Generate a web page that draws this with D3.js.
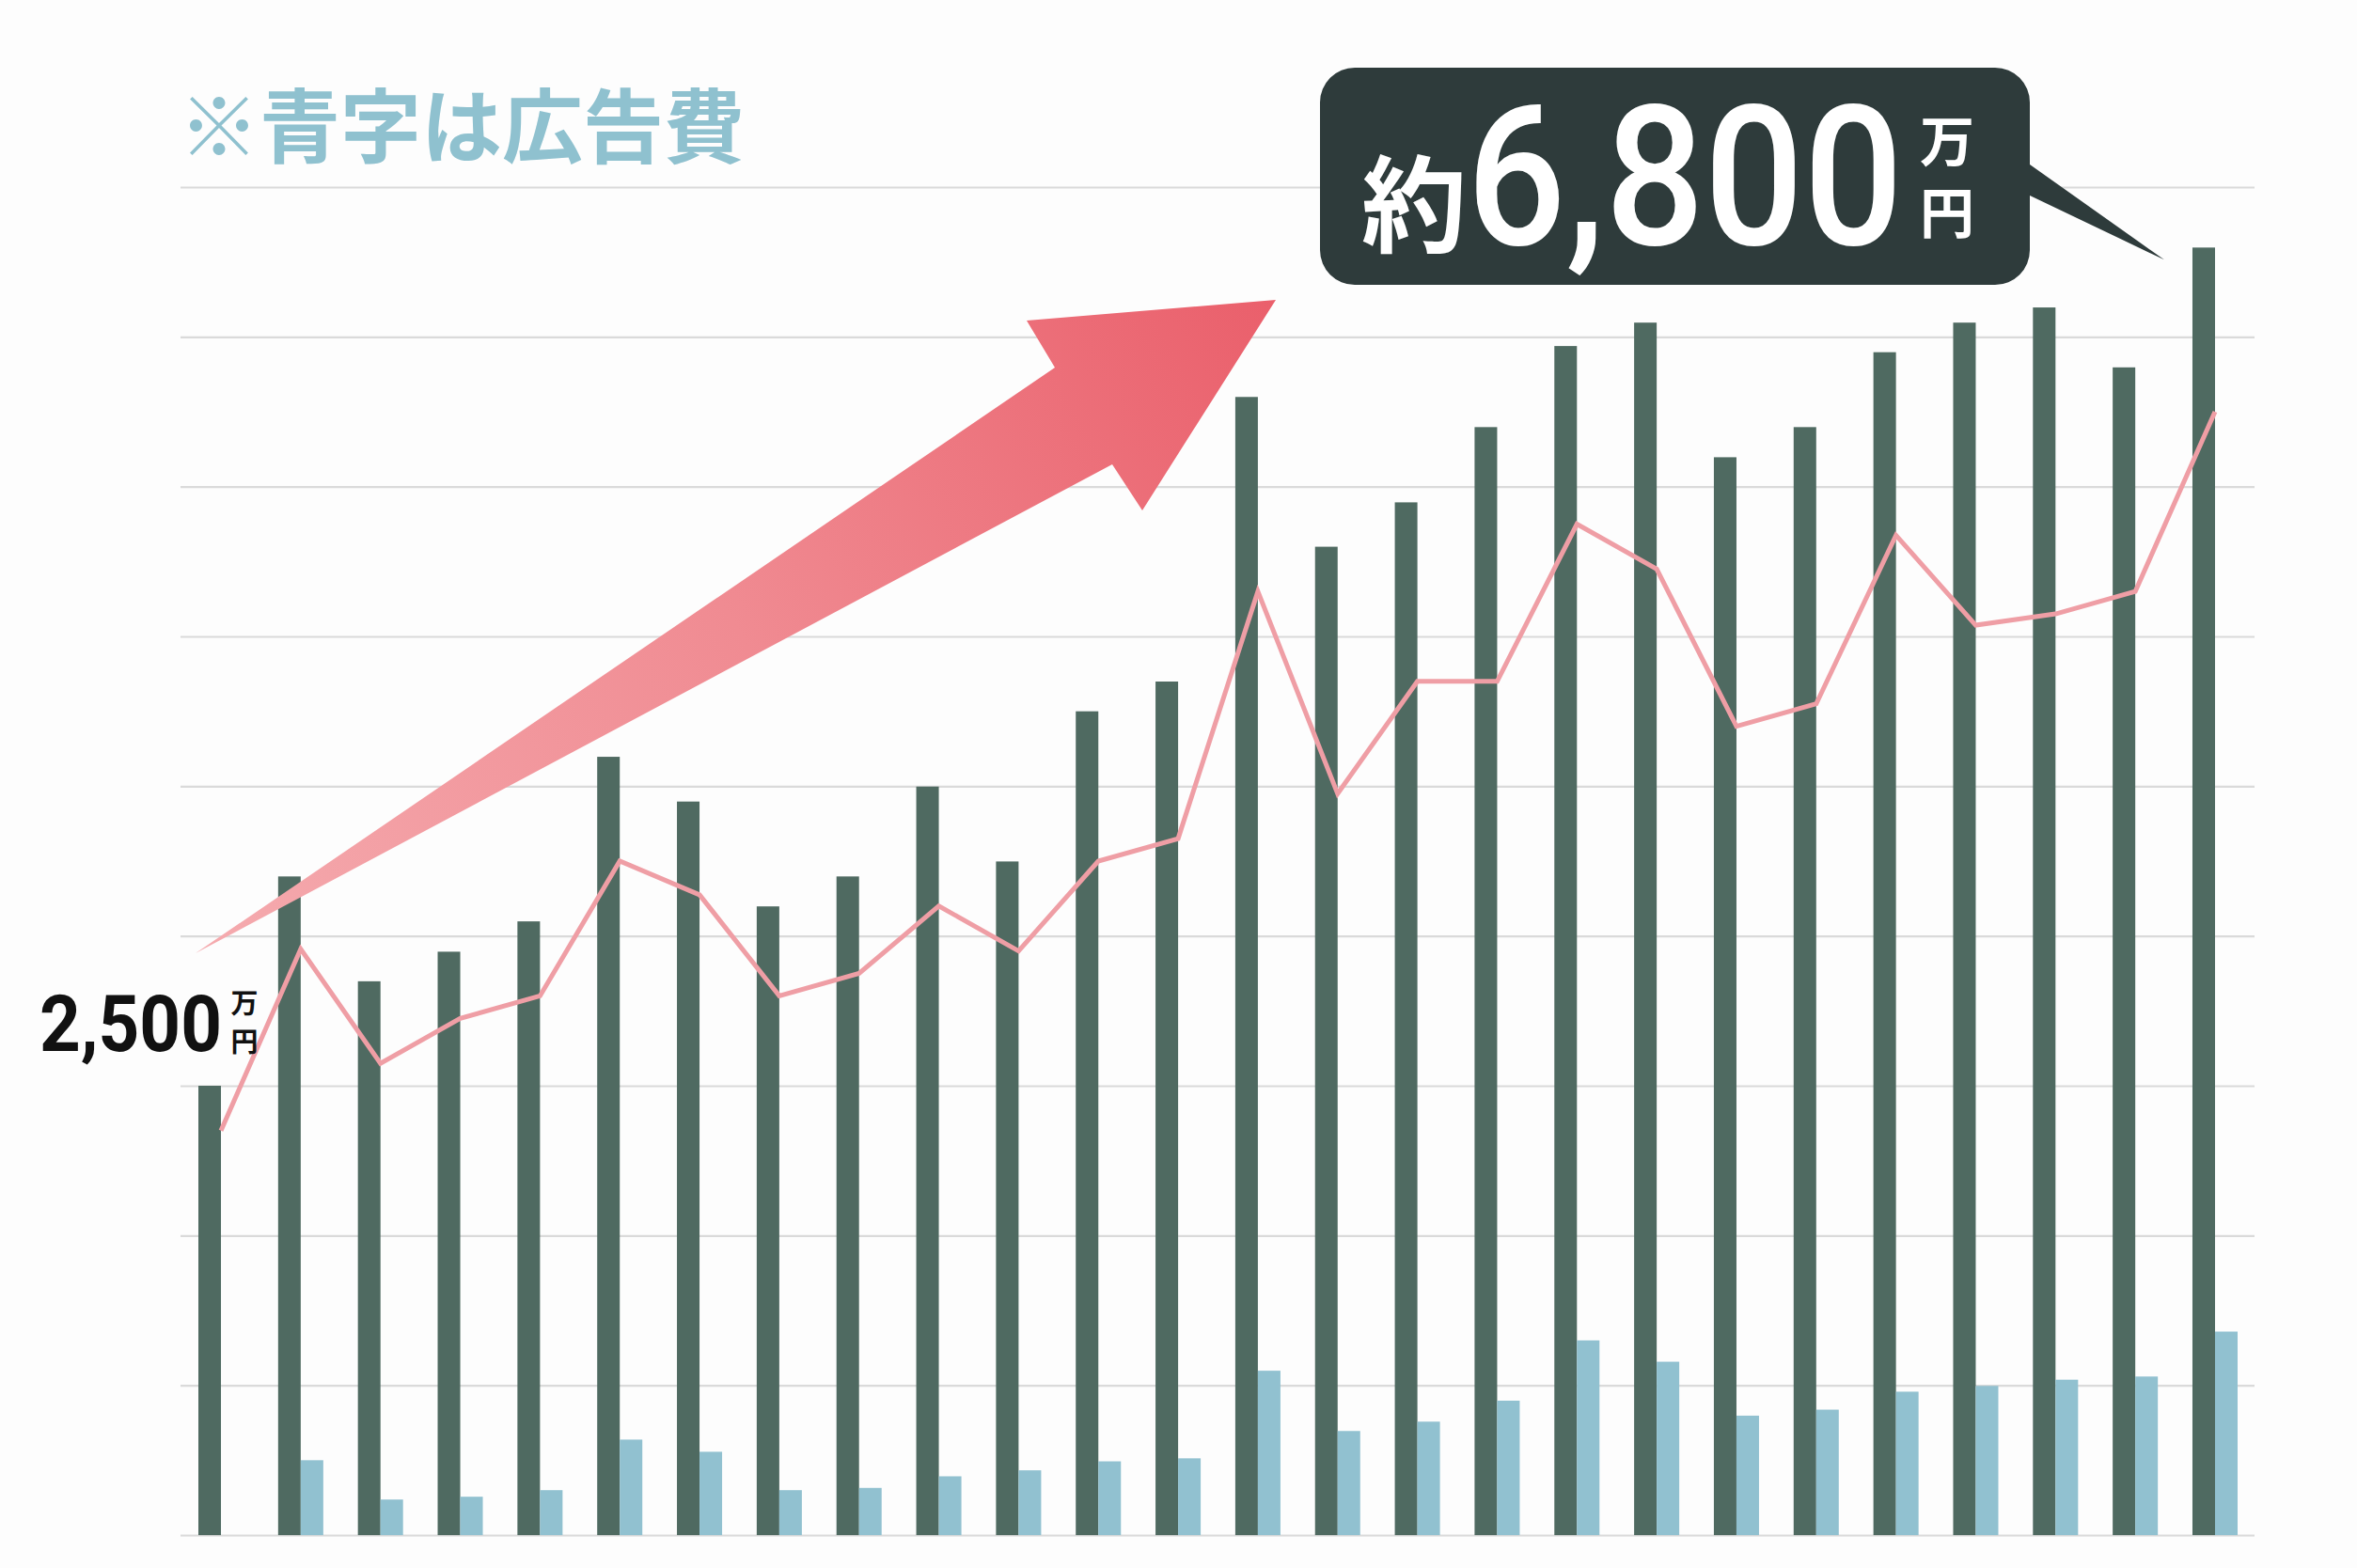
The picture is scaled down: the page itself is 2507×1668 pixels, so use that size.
<!DOCTYPE html>
<html>
<head>
<meta charset="utf-8">
<script src="https://cdn.jsdelivr.net/npm/d3@7"></script>
<style>
  html, body { margin: 0; padding: 0; background: #fdfdfd; }
  svg { display: block; }
</style>
</head>
<body>
<svg id="chart" width="2507" height="1668"></svg>
<script>
// ---------------- DATA ----------------
const categories = ["1","2","3","4","5","6","7","8","9","10","11","12","13",
                    "14","15","16","17","18","19","20","21","22","23","24","25","26"];
// 売上 (dark bars), 万円
const sales = [2400, 3518, 2958, 3116, 3278, 4157, 3918, 3358, 3518, 3998, 3598, 4400, 4559,
               6079, 5279, 5516, 5918, 6351, 6476, 5757, 5918, 6318, 6476, 6557, 6237, 6877];
// 広告費 (light blue bars), 万円 (first period has none)
const adCost = [null, 400, 190, 205, 240, 510, 445, 240, 252, 314, 346, 394, 410,
                878, 556, 606, 718, 1040, 926, 638, 670, 766, 797, 830, 847, 1087];
// 推移 (pink line)
const trend = [2160, 3130, 2520, 2760, 2880, 3600, 3420, 2880, 3000, 3360, 3120, 3600, 3720,
               5040, 3960, 4560, 4560, 5400, 5160, 4320, 4440, 5340, 4860, 4920, 5040, 6000];
const gridTicks = [0, 800, 1600, 2400, 3200, 4000, 4800, 5600, 6400, 7200];
const noteText = "※青字は広告費";
const startValueText = "2,500";
const endPrefixText = "約";
const endValueText = "6,800";
const unitChars = ["万", "円"];

// ---------------- STYLE / LAYOUT ----------------
const C = {
  dark: "#4f6a61",
  blue: "#91c1d0",
  line: "#ef9ea5",
  grid: "#dadada",
  callout: "#2e3b3b",
  note: "#8fc1cf",
  text: "#111111"
};
const plot = { left: 192, right: 2398, top: 199, bottom: 1633, barStart: 211, barEnd: 2380 };

const svg = d3.select("#chart");
svg.append("rect").attr("width", 2507).attr("height", 1668).attr("fill", "#fdfdfd");

const x = d3.scaleBand().domain(categories)
  .range([plot.barStart, plot.barEnd]).paddingInner(0.434).paddingOuter(0);
const half = x.bandwidth() / 2;
const y = d3.scaleLinear().domain([0, 7200]).range([plot.bottom, plot.top]);

// gridlines via axis
const gAxis = svg.append("g")
  .attr("transform", `translate(${plot.left},0)`)
  .call(d3.axisRight(y).tickValues(gridTicks).tickSize(plot.right - plot.left).tickFormat(""));
gAxis.select(".domain").remove();
gAxis.selectAll(".tick line").attr("stroke", C.grid).attr("stroke-width", 2.2);

// bars
svg.append("g").selectAll("rect").data(categories).join("rect")
  .attr("x", d => x(d))
  .attr("y", (d, i) => y(sales[i]))
  .attr("width", half)
  .attr("height", (d, i) => y(0) - y(sales[i]))
  .attr("fill", C.dark);

svg.append("g").selectAll("rect").data(categories.filter((d, i) => adCost[i] != null)).join("rect")
  .attr("x", d => x(d) + half)
  .attr("y", d => y(adCost[categories.indexOf(d)]))
  .attr("width", half)
  .attr("height", d => y(0) - y(adCost[categories.indexOf(d)]))
  .attr("fill", C.blue);

// line
const line = d3.line()
  .x((d, i) => x(categories[i]) + half)
  .y(d => y(d));
svg.append("path").datum(trend)
  .attr("d", line)
  .attr("fill", "none")
  .attr("stroke", C.line)
  .attr("stroke-width", 5)
  .attr("stroke-linejoin", "miter");

// ---------------- ANNOTATIONS ----------------
// Big gradient arrow
const arrowTail = [208, 1014], arrowTip = [1357, 319];
const defs = svg.append("defs");
const grad = defs.append("linearGradient").attr("id", "arrowGrad")
  .attr("gradientUnits", "userSpaceOnUse")
  .attr("x1", arrowTail[0]).attr("y1", arrowTail[1])
  .attr("x2", arrowTip[0]).attr("y2", arrowTip[1]);
grad.append("stop").attr("offset", 0).attr("stop-color", "#f5abaf");
grad.append("stop").attr("offset", 0.5).attr("stop-color", "#f08b92");
grad.append("stop").attr("offset", 1).attr("stop-color", "#ea5f6b");

const arrowPts = [arrowTail, [1122, 391], [1092, 341], arrowTip, [1215, 543], [1183, 494]];
svg.append("path")
  .attr("d", d3.line()(arrowPts) + "Z")
  .attr("fill", "url(#arrowGrad)");

// Callout bubble
const lastCat = categories[categories.length - 1];
const tip = [x(lastCat) - 30, y(sales[sales.length - 1]) + 13];
const bx0 = 1404, bx1 = 2159, by0 = 72, by1 = 303, r = 37;
const p = d3.path();
p.moveTo(bx0 + r, by0);
p.lineTo(bx1 - r, by0);
p.arcTo(bx1, by0, bx1, by0 + r, r);
p.lineTo(bx1, 175);
p.lineTo(tip[0], tip[1]);
p.lineTo(bx1, 208);
p.lineTo(bx1, by1 - r);
p.arcTo(bx1, by1, bx1 - r, by1, r);
p.lineTo(bx0 + r, by1);
p.arcTo(bx0, by1, bx0, by1 - r, r);
p.lineTo(bx0, by0 + r);
p.arcTo(bx0, by0, bx0 + r, by0, r);
p.closePath();
svg.append("path").attr("d", p.toString()).attr("fill", C.callout);

const cjk = "'Noto Sans CJK JP', 'Noto Sans CJK SC', sans-serif";
const num = "Roboto, 'Liberation Sans', sans-serif";

// condensed number: natural text scaled horizontally to a target width
function condensedText(str, x0, yBase, size, weight, targetW, fill) {
  const g = svg.append("g");
  const t = g.append("text").text(str)
    .attr("x", 0).attr("y", 0)
    .attr("font-family", num).attr("font-weight", weight).attr("font-size", size)
    .attr("fill", fill);
  const w = t.node().getComputedTextLength();
  g.attr("transform", `translate(${x0},${yBase}) scale(${targetW / w},1)`);
  return g;
}
// stacked unit characters as one text element
function stackedUnits(cx, yFirst, gap, size, fill) {
  const t = svg.append("text")
    .attr("text-anchor", "middle")
    .attr("font-family", cjk).attr("font-weight", 700).attr("font-size", size)
    .attr("fill", fill);
  t.selectAll("tspan").data(unitChars).join("tspan")
    .attr("x", cx)
    .attr("y", (d, i) => yFirst + i * gap)
    .text(d => d);
}

svg.append("text").text(endPrefixText)
  .attr("x", 1448).attr("y", 260)
  .attr("font-family", cjk).attr("font-weight", 700).attr("font-size", 112)
  .attr("fill", "#ffffff");
condensedText(endValueText, 1560, 260, 208, 500, 464, "#ffffff");
stackedUnits(2071, 172, 76, 58, "#ffffff");

// start value label
condensedText(startValueText, 42, 1118, 84, 700, 194, C.text);
stackedUnits(260, 1078, 41, 29, C.text);

// note
svg.append("text").text(noteText)
  .attr("x", 190).attr("y", 167)
  .attr("font-family", cjk).attr("font-weight", 700).attr("font-size", 86)
  .attr("fill", C.note);
</script>
</body>
</html>
